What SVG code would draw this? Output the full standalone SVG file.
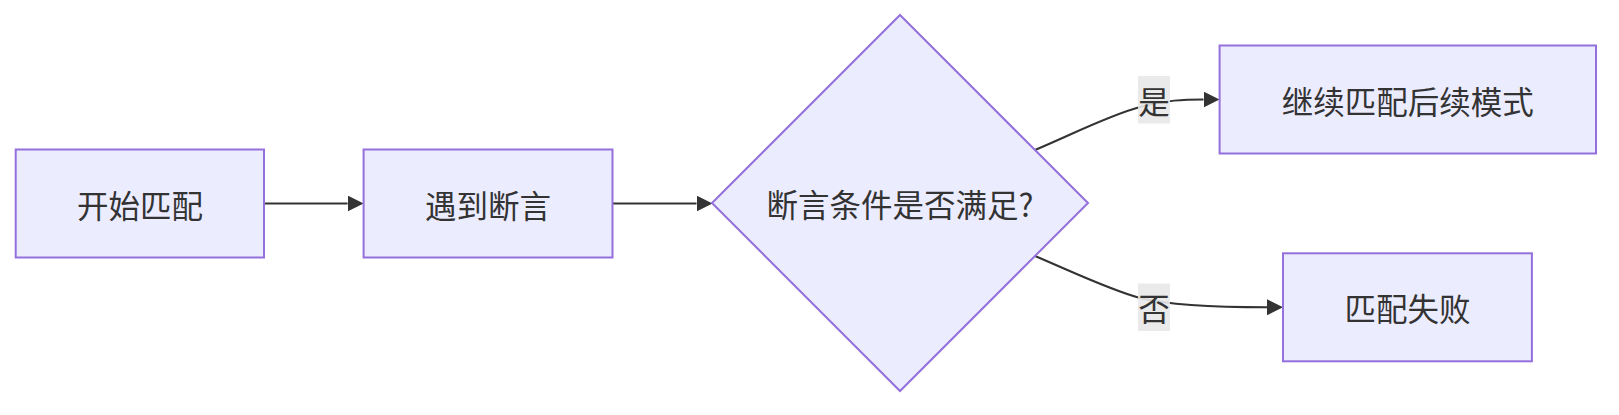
<svg xmlns="http://www.w3.org/2000/svg" width="1619" height="415" viewBox="0 0 1619 415">
<style>
.node rect, .node polygon { fill: #ECECFF; stroke: #9370DB; stroke-width: 2; }
.node text, .elabel text { font-family: "Noto Sans CJK SC", "Noto Sans", sans-serif; font-size: 31.5px; fill: #333333; text-anchor: middle; dominant-baseline: central; }
.edge { fill: none; stroke: #333333; stroke-width: 2; }
.elabel rect { fill: #e8e8e8; opacity: 0.9; }
</style>
<defs>
<marker id="arrow" viewBox="0 0 10 10" refX="0" refY="5" markerWidth="16" markerHeight="16" markerUnits="userSpaceOnUse" orient="auto">
<path d="M0,0 L10,5 L0,10 z" fill="#333333"/>
</marker>
</defs>
<rect width="1619" height="415" fill="#ffffff"/>
<g id="connectors">
<path class="edge" d="M264,203.5 L347.6,203.5" marker-end="url(#arrow)"/>
<path class="edge" d="M612.5,203.5 L696.5,203.5" marker-end="url(#arrow)"/>
<path class="edge" d="M1035,150 C1075,133 1110,115 1140,107 C1165,100 1185,99.5 1203.5,99.5" marker-end="url(#arrow)"/>
<path class="edge" d="M1035,256 C1075,273 1110,290 1140,298 C1165,304 1200,307.3 1267,307.3" marker-end="url(#arrow)"/>
</g>
<g id="label-yes" class="elabel">
<rect x="1138" y="76" width="32" height="47.5"/>
<text x="1154" y="99.8">是</text>
</g>
<g id="label-no" class="elabel">
<rect x="1138" y="283.5" width="32" height="47.5"/>
<text x="1154" y="307.3">否</text>
</g>
<g id="node-start" class="node">
<rect x="15.7" y="149.5" width="248.3" height="108"/>
<text x="140" y="203.5">开始匹配</text>
</g>
<g id="node-assert" class="node">
<rect x="363.6" y="149.5" width="248.9" height="108"/>
<text x="488" y="203.5">遇到断言</text>
</g>
<g id="node-decision" class="node">
<polygon points="900,15 1088,203 900,391 712,203"/>
<text x="900" y="203">断言条件是否满足?</text>
</g>
<g id="node-continue" class="node">
<rect x="1219.6" y="45.5" width="376.4" height="108"/>
<text x="1407.8" y="99.5">继续匹配后续模式</text>
</g>
<g id="node-fail" class="node">
<rect x="1283" y="253.3" width="248.9" height="108"/>
<text x="1407.5" y="307.3">匹配失败</text>
</g>
</svg>
